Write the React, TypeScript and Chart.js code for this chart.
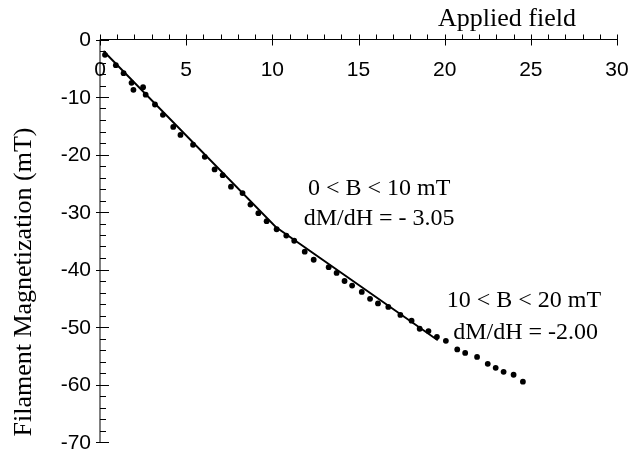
import React, { useEffect, useRef } from "react";
import { Chart, registerables } from "chart.js";

Chart.register(...registerables);

const fieldB = [0.29, 0.92, 1.37, 1.83, 1.94, 2.5, 2.65, 3.19, 3.65, 4.25, 4.67, 5.4, 6.08, 6.65, 7.12, 7.6, 8.27, 8.73, 9.19, 9.67, 10.25, 10.81, 11.27, 11.88, 12.4, 13.27, 13.73, 14.19, 14.63, 15.19, 15.67, 16.13, 16.73, 17.43, 18.08, 18.55, 19.06, 19.55, 20.07, 20.73, 21.19, 21.88, 22.5, 22.96, 23.42, 24.0, 24.54];
const magnetization = [-2.66, -4.47, -5.86, -7.54, -8.76, -8.3, -9.6, -11.3, -13.1, -15.2, -16.6, -18.3, -20.4, -22.6, -23.6, -25.6, -26.7, -28.7, -30.2, -31.6, -33.0, -34.1, -35.0, -36.9, -38.3, -39.6, -40.6, -42.0, -42.8, -43.9, -45.1, -45.9, -46.5, -47.9, -48.9, -50.3, -50.7, -51.7, -52.4, -53.9, -54.5, -55.2, -56.4, -57.1, -57.8, -58.3, -59.5];
const fitB = [0.2, 10.2, 19.6];
const fitM = [-2.0, -32.6, -52.3];
const xTickValues = [0, 5, 10, 15, 20, 25, 30];
const yTickValues = [0, -10, -20, -30, -40, -50, -60, -70];
const xTitle = "Applied field";
const yTitle = "Filament Magnetization (mT)";
const annotations = [
  { text: "0 < B < 10 mT", x: 16.2, y: -27.0 },
  { text: "dM/dH = - 3.05", x: 16.2, y: -32.2 },
  { text: "10 < B < 20 mT", x: 24.6, y: -46.6 },
  { text: "dM/dH = -2.00", x: 24.7, y: -52.0 },
];

const axesPlugin = {
  id: "customAxes",
  beforeDatasetsDraw(chart: any) {
    const ctx = chart.ctx;
    const xs = chart.scales.x;
    const ys = chart.scales.y;
    const y0 = ys.getPixelForValue(0);
    const x0 = xs.getPixelForValue(0);
    ctx.save();
    ctx.strokeStyle = "#000";
    ctx.lineWidth = 1;
    ctx.beginPath();
    ctx.moveTo(x0, y0);
    ctx.lineTo(xs.getPixelForValue(30), y0);
    ctx.stroke();
    ctx.beginPath();
    ctx.moveTo(x0, ys.getPixelForValue(0));
    ctx.lineTo(x0, ys.getPixelForValue(-70));
    ctx.stroke();
    for (let v = 0; v <= 30; v += 1) {
      const px = Math.round(xs.getPixelForValue(v)) + 0.5;
      ctx.beginPath();
      if (v % 5 === 0) {
        ctx.moveTo(px, y0 - 5);
        ctx.lineTo(px, y0 + 6);
      } else {
        ctx.moveTo(px, y0 - 5);
        ctx.lineTo(px, y0);
      }
      ctx.stroke();
    }
    for (let v = 0; v >= -70; v -= 2) {
      const py = Math.round(ys.getPixelForValue(v)) + 0.5;
      ctx.beginPath();
      ctx.moveTo(x0, py);
      ctx.lineTo(x0 + 6, py);
      ctx.stroke();
    }
    for (const v of yTickValues) {
      const py = Math.round(ys.getPixelForValue(v)) + 0.5;
      ctx.beginPath();
      ctx.moveTo(x0 - 4, py);
      ctx.lineTo(x0 + 9, py);
      ctx.stroke();
    }
    ctx.fillStyle = "#000";
    ctx.font = "21px 'Liberation Sans', Arial, sans-serif";
    ctx.textAlign = "center";
    ctx.textBaseline = "middle";
    for (const v of xTickValues) {
      ctx.fillText(String(v), xs.getPixelForValue(v), y0 + 31);
    }
    ctx.textAlign = "right";
    for (const v of yTickValues) {
      ctx.fillText(String(v), x0 - 9, ys.getPixelForValue(v) + 1);
    }
    ctx.font = "26px 'Liberation Serif', 'Times New Roman', serif";
    ctx.textAlign = "right";
    ctx.textBaseline = "alphabetic";
    ctx.fillText(xTitle, 576, 26);
    ctx.save();
    ctx.translate(31, 282);
    ctx.rotate(-Math.PI / 2);
    ctx.textAlign = "center";
    ctx.fillText(yTitle, 0, 0);
    ctx.restore();
    ctx.font = "24px 'Liberation Serif', 'Times New Roman', serif";
    ctx.textAlign = "center";
    for (const a of annotations) {
      ctx.fillText(a.text, xs.getPixelForValue(a.x), ys.getPixelForValue(a.y));
    }
    ctx.restore();
  },
};

export default function App() {
  const ref = useRef<HTMLCanvasElement>(null);
  useEffect(() => {
    if (!ref.current) return;
    const chart = new Chart(ref.current, {
      type: "scatter",
      data: {
        datasets: [
          {
            label: "fit",
            data: fitB.map((b, i) => ({ x: b, y: fitM[i] })),
            showLine: true,
            borderColor: "#000",
            borderWidth: 1.9,
            pointRadius: 0,
            backgroundColor: "#000",
          },
          {
            label: "data",
            data: fieldB.map((b, i) => ({ x: b, y: magnetization[i] })),
            showLine: false,
            pointRadius: 2.9,
            pointBorderWidth: 0,
            backgroundColor: "#000",
            borderColor: "#000",
          },
        ],
      },
      options: {
        responsive: false,
        animation: false,
        events: [],
        layout: { padding: { left: 100, right: 14, top: 39.5, bottom: 8 } },
        plugins: { legend: { display: false }, tooltip: { enabled: false } },
        scales: {
          x: { type: "linear", min: 0, max: 30, display: false },
          y: { type: "linear", min: -70, max: 0, display: false },
        },
      },
      plugins: [axesPlugin],
    });
    return () => chart.destroy();
  }, []);
  return (
    <div style={{ position: "fixed", left: 0, top: 0, width: 631, height: 450, background: "#fff" }}>
      <canvas ref={ref} width={631} height={450} style={{ display: "block" }} />
    </div>
  );
}
